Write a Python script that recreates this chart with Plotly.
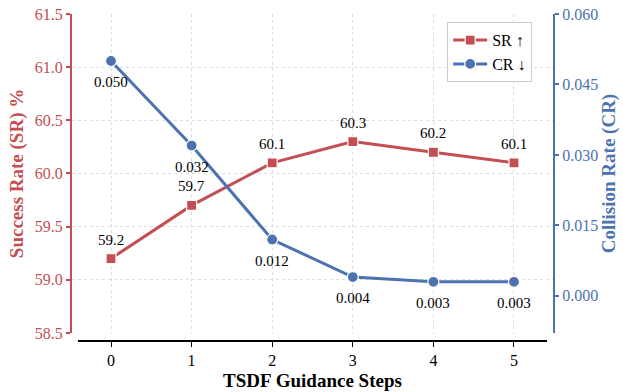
import plotly.graph_objects as go

steps = [0, 1, 2, 3, 4, 5]
sr = [59.2, 59.7, 60.1, 60.3, 60.2, 60.1]
cr = [0.050, 0.032, 0.012, 0.004, 0.003, 0.003]
sr_labels = ["59.2", "59.7", "60.1", "60.3", "60.2", "60.1"]
cr_labels = ["0.050", "0.032", "0.012", "0.004", "0.003", "0.003"]
sr_ticks = [58.5, 59.0, 59.5, 60.0, 60.5, 61.0, 61.5]
cr_ticks = [0.000, 0.015, 0.030, 0.045, 0.060]

RED = "#C44E52"
BLUE = "#4C72B0"
FONT = "Liberation Serif, Times New Roman, Times, serif"

fig = go.Figure()
fig.add_trace(go.Scatter(
    x=steps, y=sr, name="SR ↑", mode="lines+markers",
    line=dict(color=RED, width=3),
    marker=dict(symbol="square", size=10, color=RED, line=dict(color="white", width=1.2)),
    yaxis="y"))
fig.add_trace(go.Scatter(
    x=steps, y=cr, name="CR ↓", mode="lines+markers",
    line=dict(color=BLUE, width=3),
    marker=dict(symbol="circle", size=11, color=BLUE, line=dict(color="white", width=1.2)),
    yaxis="y2"))

for xv, yv, t in zip(steps, sr, sr_labels):
    fig.add_annotation(x=xv, y=yv, xref="x", yref="y", text=t, showarrow=False,
                       yshift=19, font=dict(family=FONT, size=15, color="black"))
for xv, yv, t in zip(steps, cr, cr_labels):
    fig.add_annotation(x=xv, y=yv, xref="x", yref="y2", text=t, showarrow=False,
                       yshift=-21, font=dict(family=FONT, size=15, color="black"))

# offset bottom axis line
fig.add_shape(type="line", xref="x", yref="paper", x0=-0.41, x1=5.41, y0=0, y1=0,
              line=dict(color="black", width=2))

dom = [0.0245, 1]
fig.update_layout(
    width=623, height=392,
    margin=dict(l=72, r=70, t=14, b=51, autoexpand=False),
    plot_bgcolor="white", paper_bgcolor="white",
    font=dict(family=FONT, size=15, color="black"),
    xaxis=dict(range=[-0.484, 5.484], tickvals=steps, ticks="outside", ticklen=5,
               tickcolor="black", tickwidth=1.2, anchor="free", position=0,
               showline=False, zeroline=False, automargin=False,
               ticklabeloverflow="allow",
               showgrid=True, gridcolor="#dddddd", griddash="dot", gridwidth=1,
               tickfont=dict(family=FONT, size=16, color="black"),
               title=dict(text="<b>TSDF Guidance Steps</b>", standoff=5,
                          font=dict(family=FONT, size=19, color="black"))),
    yaxis=dict(domain=dom, range=[58.5, 61.5], tickvals=sr_ticks, tickformat=".1f",
               ticks="outside", ticklen=4, tickcolor=RED, tickwidth=1.5,
               showline=True, linecolor=RED, linewidth=2, zeroline=False, automargin=False,
               ticklabeloverflow="allow",
               showgrid=True, gridcolor="#dddddd", griddash="dot", gridwidth=1,
               tickfont=dict(family=FONT, size=16, color=RED),
               title=dict(text="<b>Success Rate (SR) %</b>", standoff=6,
                          font=dict(family=FONT, size=19, color=RED))),
    yaxis2=dict(domain=dom, range=[-0.0079, 0.060], tickvals=cr_ticks, tickformat=".3f",
                overlaying="y", side="right", anchor="x", automargin=False,
                ticklabeloverflow="allow",
                ticks="outside", ticklen=4, tickcolor=BLUE, tickwidth=1.5,
                showline=True, linecolor=BLUE, linewidth=2, zeroline=False,
                showgrid=False,
                tickfont=dict(family=FONT, size=16, color=BLUE),
                title=dict(text="<b>Collision Rate (CR)</b>", standoff=4,
                           font=dict(family=FONT, size=19, color=BLUE))),
    legend=dict(x=0.780, y=0.975, xanchor="left", yanchor="top",
                bgcolor="rgba(255,255,255,0.9)", bordercolor="#cccccc", borderwidth=1,
                font=dict(family=FONT, size=16, color="black"),
                itemwidth=34, tracegroupgap=0),
    showlegend=True,
)

fig.write_html("out.html", post_script="document.body.style.margin='0px';",
               config={"displayModeBar": False})
